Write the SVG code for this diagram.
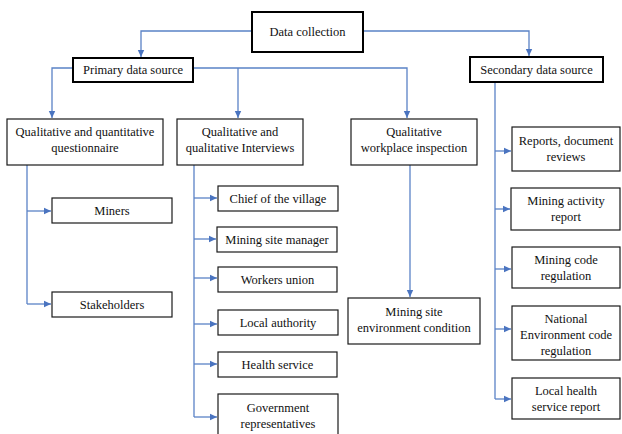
<svg xmlns="http://www.w3.org/2000/svg" width="622" height="434" viewBox="0 0 622 434" font-family="'Liberation Serif', 'DejaVu Serif', serif">
<style>
.b{fill:#fff;stroke:#1a1a1a;stroke-width:1.2}
.t{fill:#fff;stroke:#000;stroke-width:2}
text{font-family:'Liberation Serif','DejaVu Serif',serif;font-size:12.5px;fill:#111;text-anchor:middle}
.c{fill:none;stroke:#5a82c6;stroke-width:1.3}
</style>
<defs>
<marker id="a" markerWidth="8" markerHeight="8" refX="7" refY="4" orient="auto" markerUnits="userSpaceOnUse">
<path d="M0,0.8 L7,4 L0,7.2 z" fill="#4a74c0"/>
</marker>
</defs>
<g id="connectors">
<path class="c" d="M252,31 H141 V57" marker-end="url(#a)"/>
<path class="c" d="M363,31 H529 V56" marker-end="url(#a)"/>
<path class="c" d="M73,68 H52 V118" marker-end="url(#a)"/>
<path class="c" d="M193,68 H407 V118" marker-end="url(#a)"/>
<path class="c" d="M238,68 V118" marker-end="url(#a)"/>
<path class="c" d="M27,165 V304"/>
<path class="c" d="M27,211 H51" marker-end="url(#a)"/>
<path class="c" d="M27,304 H51" marker-end="url(#a)"/>
<path class="c" d="M194,165 V417"/>
<path class="c" d="M194,198 H217" marker-end="url(#a)"/>
<path class="c" d="M194,239 H216" marker-end="url(#a)"/>
<path class="c" d="M194,278 H217" marker-end="url(#a)"/>
<path class="c" d="M194,324 H217" marker-end="url(#a)"/>
<path class="c" d="M194,364 H217" marker-end="url(#a)"/>
<path class="c" d="M194,417 H217" marker-end="url(#a)"/>
<path class="c" d="M410,165 V297" marker-end="url(#a)"/>
<path class="c" d="M495,82 V399"/>
<path class="c" d="M495,151 H511" marker-end="url(#a)"/>
<path class="c" d="M495,209 H510" marker-end="url(#a)"/>
<path class="c" d="M495,269 H511" marker-end="url(#a)"/>
<path class="c" d="M495,329 H511" marker-end="url(#a)"/>
<path class="c" d="M495,399 H511" marker-end="url(#a)"/>
</g>
<g id="data-collection"><rect class="t" x="252" y="12" width="111" height="40"/><text x="307.5" y="36">Data collection</text></g>
<g id="primary"><rect class="t" x="73" y="58" width="120" height="24"/><text x="133" y="74">Primary data source</text></g>
<g id="secondary"><rect class="t" x="470" y="57" width="133" height="25"/><text x="536.5" y="74">Secondary data source</text></g>
<g id="questionnaire"><rect class="b" x="7" y="119" width="156" height="46"/><text x="85" y="136">Qualitative and quantitative</text><text x="85" y="152">questionnaire</text></g>
<g id="interviews"><rect class="b" x="177" y="119" width="126" height="46"/><text x="240" y="136">Qualitative and</text><text x="240" y="152">qualitative Interviews</text></g>
<g id="inspection"><rect class="b" x="351" y="119" width="126" height="46"/><text x="414" y="136">Qualitative</text><text x="414" y="152">workplace inspection</text></g>
<g id="miners"><rect class="b" x="52" y="198" width="120" height="25"/><text x="112" y="215">Miners</text></g>
<g id="stakeholders"><rect class="b" x="52" y="292" width="120" height="25"/><text x="112" y="309">Stakeholders</text></g>
<g id="chief"><rect class="b" x="218" y="186" width="120" height="25"/><text x="278" y="203">Chief of the village</text></g>
<g id="manager"><rect class="b" x="217" y="227" width="120" height="25"/><text x="277" y="244">Mining site manager</text></g>
<g id="union"><rect class="b" x="218" y="267" width="119" height="25"/><text x="277.5" y="284">Workers union</text></g>
<g id="authority"><rect class="b" x="218" y="310" width="120" height="25"/><text x="278" y="327">Local authority</text></g>
<g id="health"><rect class="b" x="218" y="352" width="119" height="25"/><text x="277.5" y="369">Health service</text></g>
<g id="government"><rect class="b" x="218" y="394" width="120" height="48"/><text x="278" y="412">Government</text><text x="278" y="428">representatives</text></g>
<g id="environment"><rect class="b" x="348" y="298" width="132" height="46"/><text x="414" y="316">Mining site</text><text x="414" y="332">environment condition</text></g>
<g id="reports"><rect class="b" x="512" y="127" width="108" height="44"/><text x="566" y="145">Reports, document</text><text x="566" y="161">reviews</text></g>
<g id="activity"><rect class="b" x="511" y="188" width="109" height="42"/><text x="566" y="205">Mining activity</text><text x="566" y="221">report</text></g>
<g id="code"><rect class="b" x="512" y="247" width="108" height="41"/><text x="566" y="264">Mining code</text><text x="566" y="280">regulation</text></g>
<g id="national"><rect class="b" x="512" y="306" width="108" height="54"/><text x="566" y="323">National</text><text x="566" y="339">Environment code</text><text x="566" y="355">regulation</text></g>
<g id="local-health"><rect class="b" x="512" y="378" width="108" height="41"/><text x="566" y="395">Local health</text><text x="566" y="411">service report</text></g>
</svg>
